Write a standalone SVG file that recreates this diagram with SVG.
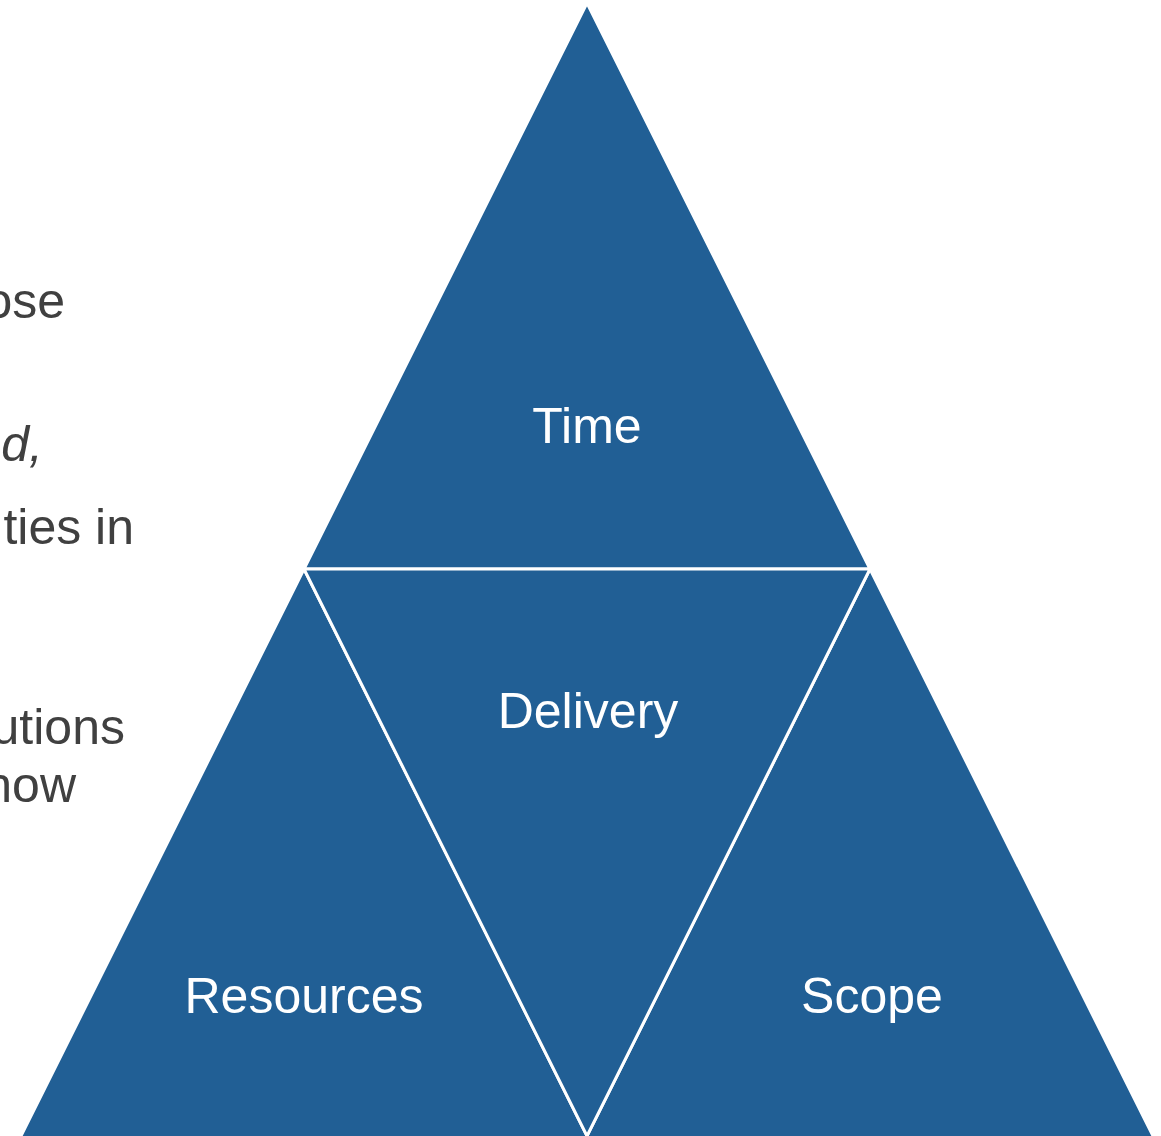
<svg xmlns="http://www.w3.org/2000/svg" width="1161" height="1136" viewBox="0 0 1161 1136">
<style>
.tri{fill:#215f95;stroke:#ffffff;stroke-width:3;stroke-linejoin:miter}
.lbl{font-family:"Liberation Sans",Arial,sans-serif;font-size:50px;fill:#ffffff;text-anchor:middle}
.side{font-family:"Liberation Sans",Arial,sans-serif;font-size:50px;fill:#404040;text-anchor:end}
</style>
<rect width="1161" height="1136" fill="#ffffff"/>
<g id="side-text">
<text class="side" x="65" y="318">ose</text>
<text class="side" x="43" y="461" font-style="italic">d,</text>
<text class="side" x="134" y="544">ties in</text>
<text class="side" x="125" y="744">utions</text>
<text class="side" x="76" y="802">now</text>
</g>
<g id="time">
<polygon class="tri" points="587,3 304,569 870,569"/>
<text class="lbl" x="587" y="443">Time</text>
</g>
<g id="resources">
<polygon class="tri" points="304,569 20,1138 588,1138"/>
<text class="lbl" x="304" y="1013">Resources</text>
</g>
<g id="scope">
<polygon class="tri" points="870,569 586,1138 1154,1138"/>
<text class="lbl" x="872" y="1013">Scope</text>
</g>
<g id="delivery">
<polygon class="tri" points="304,569 870,569 587,1136"/>
<text class="lbl" x="588" y="728">Delivery</text>
</g>
<g id="connectors"/>
</svg>
